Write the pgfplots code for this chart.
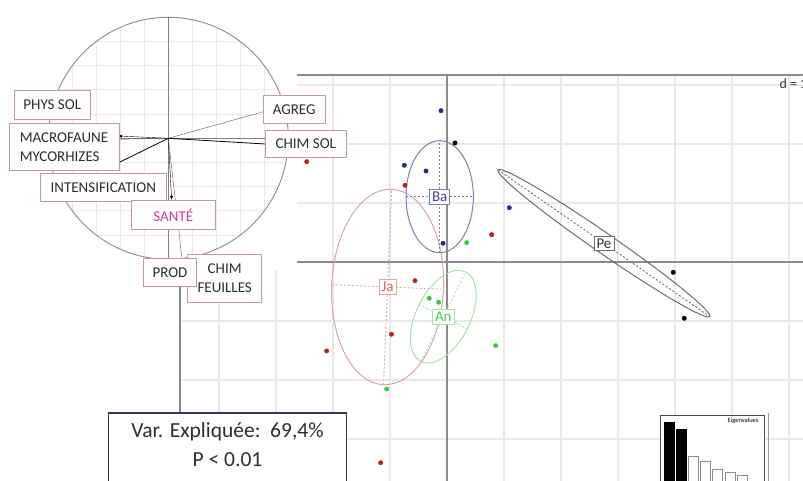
\documentclass[border=0pt]{standalone}
\usepackage{pgfplots}
\pgfplotsset{compat=1.18}
\usepackage{fontspec}
\setmainfont{Carlito}
\usetikzlibrary{arrows.meta}
\definecolor{gridc}{HTML}{E9E9E9}
\definecolor{axc}{HTML}{8C8C8C}
\definecolor{baell}{HTML}{7A7FB5}
\definecolor{batxt}{HTML}{3A48A8}
\definecolor{bapt}{HTML}{1F2D8A}
\definecolor{jaell}{HTML}{D7A5A5}
\definecolor{jatxt}{HTML}{D06060}
\definecolor{japt}{HTML}{B22222}
\definecolor{anell}{HTML}{A8E0A8}
\definecolor{antxt}{HTML}{4CC94C}
\definecolor{anpt}{HTML}{3CC83C}
\definecolor{peell}{HTML}{6D6D6D}
\definecolor{petxt}{HTML}{333333}
\definecolor{lblbox}{HTML}{C49A9A}
\definecolor{lbltxt}{HTML}{2E2E2E}
\definecolor{sante}{HTML}{D0408F}
\definecolor{boxc}{HTML}{2D3D4D}
\begin{document}
\begin{tikzpicture}[x=1pt,y=1pt,
  lbl/.style={draw=lblbox, fill=white, text=lbltxt, line width=0.9pt, inner sep=0pt,
    font=\fontsize{15}{19}\selectfont},
  cls/.style={fill=white, inner sep=2.5pt, line width=0.8pt, font=\fontsize{15}{15}\selectfont},
  dsh/.style={dash pattern=on 2pt off 2pt, line width=0.9pt}]
\useasboundingbox (0,0) rectangle (803,481);
\clip (0,0) rectangle (803,481);

% ---------------- main s.class plot ----------------
\begin{axis}[at={(180pt,0pt)}, anchor=south west, scale only axis,
  width=623pt, height=406pt,
  xmin=-4.684, xmax=6.246, ymin=-3.712, ymax=3.169,
  xtick={-4,...,6}, ytick={-3,...,3}, xticklabels={}, yticklabels={},
  major tick length=0pt, grid=major, grid style={draw=gridc, line width=1.3pt},
  axis line style={draw=none}, clip=false]
\draw[axc, line width=1.1pt] (axis cs:0,-3.712) -- (axis cs:0,3.169);
\draw[axc, line width=1.1pt] (axis cs:-4.684,0) -- (axis cs:6.246,0);
\draw[axc, line width=1.3pt] (axis cs:-4.684,-3.712) -- (axis cs:-4.684,3.169);
\draw[axc, line width=1.1pt] (axis cs:-4.684,3.169) -- (axis cs:6.246,3.169);
% ellipses
\draw[jaell, line width=1pt, rotate around={-2.4:(axis cs:-1.042,-0.424)}] (axis cs:-1.042,-0.424) ellipse [x radius=55.9pt, y radius=97.8pt];
\draw[jaell, dsh, rotate around={-2.4:(axis cs:-1.042,-0.424)}] (axis cs:-1.042,-0.424) ++(-55.9pt,0pt) -- ++(111.8pt,0pt);
\draw[jaell, dsh, rotate around={-2.4:(axis cs:-1.042,-0.424)}] (axis cs:-1.042,-0.424) ++(0pt,-97.8pt) -- ++(0pt,195.6pt);
\draw[anell, line width=1pt, rotate around={63.4:(axis cs:-0.065,-0.927)}] (axis cs:-0.065,-0.927) ellipse [x radius=50pt, y radius=27pt];
\draw[anell, dsh, rotate around={63.4:(axis cs:-0.065,-0.927)}] (axis cs:-0.065,-0.927) ++(-50pt,0pt) -- ++(100pt,0pt);
\draw[anell, dsh, rotate around={63.4:(axis cs:-0.065,-0.927)}] (axis cs:-0.065,-0.927) ++(0pt,-27pt) -- ++(0pt,54pt);
\draw[baell, line width=1pt] (axis cs:-0.128,1.107) ellipse [x radius=33.7pt, y radius=56pt];
\draw[baell, dsh] (axis cs:-0.128,1.107) ++(-33.7pt,0pt) -- ++(67.4pt,0pt);
\draw[baell, dsh] (axis cs:-0.128,1.107) ++(0pt,-56pt) -- ++(0pt,112pt);
\draw[peell, line width=1pt, rotate around={-34.7:(axis cs:2.754,0.317)}] (axis cs:2.754,0.317) ellipse [x radius=128.7pt, y radius=10pt];
\draw[peell, dsh, rotate around={-34.7:(axis cs:2.754,0.317)}] (axis cs:2.754,0.317) ++(-128.7pt,0pt) -- ++(257.4pt,0pt);
% points
\addplot[only marks, mark=*, mark size=2.2pt, color=bapt] coordinates {
 (-0.105,2.564) (-0.749,1.639) (-0.368,1.542) (1.093,0.920) (-0.070,0.317)};
\addplot[only marks, mark=*, mark size=2.2pt, color=black] coordinates {
 (0.140,2.017) (3.970,-0.175) (4.163,-0.954)};
\addplot[only marks, mark=*, mark size=2.2pt, color=japt] coordinates {
 (-2.461,1.700) (-0.737,1.300) (0.784,0.463) (-0.561,-0.317) (-0.974,-1.225) (-2.111,-1.508) (-1.163,-3.402)};
\addplot[only marks, mark=*, mark size=2.2pt, color=anpt] coordinates {
 (0.346,0.327) (-0.311,-0.615) (-0.146,-0.683) (0.854,-1.419) (-1.058,-2.153)};
% class labels
\node[cls, draw=baell, text=batxt] at (axis cs:-0.128,1.107) {Ba};
\node[cls, draw=jaell, text=jatxt] at (axis cs:-1.042,-0.424) {Ja};
\node[cls, draw=anell, text=antxt] at (axis cs:-0.065,-0.927) {An};
\node[cls, draw=peell, text=petxt] at (axis cs:2.754,0.317) {Pe};
\end{axis}
\node[anchor=west, text=petxt, font=\fontsize{14}{14}\selectfont] at (776,397) {d = 1};

% ---------------- correlation circle inset ----------------
\fill[white] (0,211) rectangle (297,481);
\begin{scope}
\clip (168.3,342.7) ellipse [x radius=120, y radius=121];
\foreach \k in {-5,...,5} {
  \draw[gridc, line width=1pt] (168.3+24*\k,200) -- (168.3+24*\k,481);
  \draw[gridc, line width=1pt] (40,342.7+24.2*\k) -- (300,342.7+24.2*\k);
}
\end{scope}
\draw[axc, line width=0.9pt] (168.3,342.7) ellipse [x radius=120, y radius=121];
\draw[gray, line width=0.9pt] (168.3,221.7) -- (168.3,463.7);
\draw[gray, line width=0.6pt] (48.3,342.7) -- (288.3,342.7);
\begin{axis}[at={(0pt,213pt)}, anchor=south west, scale only axis,
  width=297pt, height=268pt,
  xmin=-1.4025, xmax=1.0725, ymin=-1.0719, ymax=1.143,
  hide axis, clip=false]
\pgfplotsset{cycle list={{black!65, line width=0.8pt, -{Latex[length=4pt,width=3pt]}}}}
\addplot coordinates {(0,0) (0.792,0.220)};
\addplot coordinates {(0,0) (0.806,-0.047)};
\addplot coordinates {(0,0) (-0.419,0.019)};
\addplot coordinates {(0,0) (-0.419,-0.008)};
\addplot coordinates {(0,0) (-0.419,-0.204)};
\addplot coordinates {(0,0) (0.028,-0.510)};
\addplot coordinates {(0,0) (0.112,-0.979)};
\end{axis}
\node[lbl, minimum width=76.7, minimum height=28.6] at (52.3,376) {PHYS SOL};
\node[lbl, minimum width=110, minimum height=46.7, align=left] at (64,334.3) {MACROFAUNE\\MYCORHIZES};
\node[lbl, minimum width=61.7, minimum height=28.3] at (294.2,371.8) {AGREG};
\node[lbl, minimum width=80.3, minimum height=27.3] at (305.8,337.3) {CHIM SOL};
\node[lbl, minimum width=126.7, minimum height=28.4] at (103.3,293.5) {INTENSIFICATION};
\node[lbl, minimum width=83.3, minimum height=28.6, text=sante] at (173.3,266) {SANTÉ};
\node[lbl, minimum width=74, minimum height=48, align=center] at (224.7,203) {CHIM\\FEUILLES};
\node[lbl, minimum width=53.4, minimum height=28.4] at (170,208.5) {PROD};

% ---------------- text box ----------------
\draw[boxc, line width=1.3pt, fill=white] (108.3,68) rectangle (346.7,-5);
\node[text=lbltxt, font=\fontsize{21.5}{24}\selectfont] at (227.5,49.3) {Var. Expliquée:\ \ 69,4\%};
\node[text=lbltxt, font=\fontsize{21.5}{24}\selectfont] at (227.5,21) {P < 0.01};

% ---------------- eigenvalues inset ----------------
\draw[black!40, line width=0.8pt] (768,68) -- (768,-5);
\draw[black!70, line width=0.8pt, fill=white] (660,66) rectangle (764,-5);
\begin{axis}[at={(660pt,-9pt)}, anchor=south west, scale only axis,
  width=104pt, height=75pt, xmin=0.262, xmax=8.787, ymin=0, ymax=75,
  hide axis, clip=false]
\addplot[ybar, bar width=10pt, bar shift=0pt, fill=black, draw=black] coordinates {(1,67.3) (2,60.7)};
\addplot[ybar, bar width=10pt, bar shift=0pt, fill=white, draw=black!45, line width=0.8pt] coordinates {(3,33.3) (4,28.3) (5,20.7) (6,17.3) (7,14.7)};
\end{axis}
\node[anchor=east, font=\fontsize{6.5}{7}\selectfont] at (762,60) {Eigenvalues};
\end{tikzpicture}
\end{document}
